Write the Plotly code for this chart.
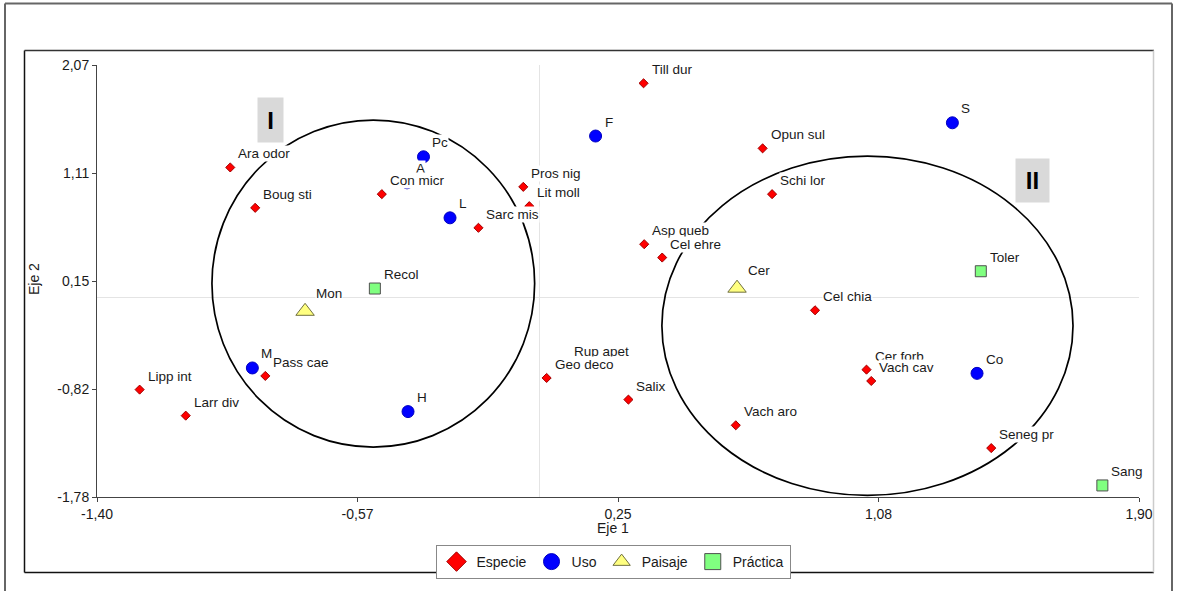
import plotly.graph_objects as go

# ---------------- data ----------------
esp_names = ["Ara odor", "Boug sti", "Till dur", "Pros nig", "Lit moll", "Sarc mis",
             "Asp queb", "Cel ehre", "Opun sul", "Schi lor", "Cel chia", "Cer forb",
             "Vach cav", "Vach aro", "Seneg pr", "Rup apet", "Geo deco", "Salix",
             "Pass cae", "Lipp int", "Larr div", "Con micr"]
esp_x = [-0.978, -0.899, 0.331, -0.050, -0.031, -0.192,
         0.333, 0.390, 0.708, 0.738, 0.874, 1.037,
         1.052, 0.623, 1.432, 0.086, 0.024, 0.283,
         -0.867, -1.265, -1.119, -0.498]
esp_y = [1.157, 0.797, 1.907, 0.984, 0.812, 0.619,
         0.473, 0.354, 1.327, 0.919, -0.116, -0.645,
         -0.746, -1.141, -1.344, -0.606, -0.719, -0.912,
         -0.701, -0.823, -1.055, 0.919]

uso_names = ["Pc", "A", "L", "F", "S", "Co", "M", "H"]
uso_x = [-0.366, -0.418, -0.282, 0.179, 1.309, 1.387, -0.908, -0.415]
uso_y = [1.252, 1.020, 0.708, 1.437, 1.555, -0.678, -0.630, -1.019]

pai_names = ["Mon", "Cer"]
pai_x = [-0.741, 0.627]
pai_y = [-0.125, 0.081]

pra_names = ["Recol", "Toler", "Sang"]
pra_x = [-0.520, 1.399, 1.784]
pra_y = [0.078, 0.232, -1.677]

x_tickvals = [-1.40, -0.575, 0.25, 1.075, 1.90]
x_ticktext = ["-1,40", "-0,57", "0,25", "1,08", "1,90"]
y_tickvals = [2.07, 1.1075, 0.145, -0.8175, -1.78]
y_ticktext = ["2,07", "1,11", "0,15", "-0,82", "-1,78"]

# ellipses around groups (data coords)
group_I = dict(x0=-1.036, x1=-0.014, y0=-1.335, y1=1.579)
group_II = dict(x0=0.389, x1=1.691, y0=-1.766, y1=1.258)

FONT = "Liberation Sans, Arial, sans-serif"

# plot area in pixels
L, R, T, B = 97, 39, 65, 94
W, H = 1178, 591
PW, PH = W - L - R, H - T - B


def px(x):
    return (x - L) / PW


def py(y):
    return (H - B - y) / PH


groups = [
    ("Especie", esp_names, esp_x, esp_y, "diamond", 7, "#ff0000", "#a00000", 15, (7, 13.5)),
    ("Uso", uso_names, uso_x, uso_y, "circle", 12, "#0000ff", "#0000c0", 16, (8, 14)),
    ("Paisaje", pai_names, pai_x, pai_y, "triangle-up", 16, "#ffff80", "#707040", 15, (10, 18)),
    ("Práctica", pra_names, pra_x, pra_y, "square", 11, "#80ff80", "#505050", 16, (8, 14)),
]

fig = go.Figure()
annotations = []

for name, labels, xs, ys, sym, size, col, lcol, lsize, off in groups:
    fig.add_trace(go.Scatter(
        x=xs, y=ys, mode="markers", name=name, showlegend=False,
        marker=dict(symbol=sym, size=size, color=col, line=dict(color=lcol, width=1)),
        hoverinfo="text", text=labels,
    ))
    # legend-only proxy with larger symbol
    fig.add_trace(go.Scatter(
        x=[None], y=[None], mode="markers", name=name, showlegend=True,
        marker=dict(symbol=sym, size=lsize, color=col, line=dict(color=lcol, width=1)),
    ))

# labels: draw Uso / Paisaje / Práctica first, Especie on top
label_order = [groups[1], groups[2], groups[3], groups[0]]
for name, labels, xs, ys, sym, size, col, lcol, lsize, off in label_order:
    for lab, xv, yv in zip(labels, xs, ys):
        annotations.append(dict(
            x=xv, y=yv, xref="x", yref="y", text=lab, showarrow=False,
            xanchor="left", yanchor="middle", xshift=off[0], yshift=off[1],
            bgcolor="white", borderpad=0,
            font=dict(family=FONT, size=13.5, color="#1a1a1a"),
        ))

# Roman numeral tags
annotations.append(dict(x=px(270.5), y=py(120), xref="paper", yref="paper", text="<b>I</b>",
                        showarrow=False, xanchor="center", yanchor="middle", width=25, height=44,
                        bgcolor="#d9d9d9", borderpad=0,
                        font=dict(family=FONT, size=24, color="black")))
annotations.append(dict(x=px(1032.5), y=py(180.5), xref="paper", yref="paper", text="<b>II</b>",
                        showarrow=False, xanchor="center", yanchor="middle", width=33, height=43,
                        bgcolor="#d9d9d9", borderpad=0,
                        font=dict(family=FONT, size=24, color="black")))

# axis titles
annotations.append(dict(x=px(613), y=py(528), xref="paper", yref="paper", text="Eje 1",
                        showarrow=False, xanchor="center", yanchor="middle",
                        font=dict(family=FONT, size=14, color="#1a1a1a")))
annotations.append(dict(x=px(34), y=py(279), xref="paper", yref="paper", text="Eje 2",
                        showarrow=False, xanchor="center", yanchor="middle", textangle=-90,
                        font=dict(family=FONT, size=14, color="#1a1a1a")))

shapes = []
for g in (group_I, group_II):
    shapes.append(dict(type="circle", xref="x", yref="y", layer="above",
                       line=dict(color="black", width=1.7), fillcolor="rgba(0,0,0,0)", **g))


def pline(x0, y0, x1, y1, color, width):
    return dict(type="line", xref="paper", yref="paper", x0=px(x0), y0=py(y0),
                x1=px(x1), y1=py(y1), line=dict(color=color, width=width), layer="above")


# outer page frame
shapes.append(pline(5, 3.5, 5, 600, "#666666", 2))
shapes.append(pline(5, 3.5, 1172, 3.5, "#666666", 2))
shapes.append(pline(1172, 3.5, 1172, 600, "#666666", 2))
# inner chart frame
shapes.append(pline(24.5, 50.5, 24.5, 572.5, "#111111", 1.5))
shapes.append(pline(24.5, 50.5, 1154, 50.5, "#333333", 1.5))
shapes.append(pline(24.5, 572.5, 1154, 572.5, "#111111", 1.5))
shapes.append(pline(1153.5, 50.5, 1153.5, 572.5, "#cccccc", 1.5))

fig.update_layout(
    width=W, height=H,
    margin=dict(l=L, r=R, t=T, b=B, autoexpand=False),
    paper_bgcolor="white", plot_bgcolor="white",
    font=dict(family=FONT, size=14, color="#1a1a1a"),
    xaxis=dict(range=[-1.40, 1.90], tickvals=x_tickvals, ticktext=x_ticktext,
               showgrid=False, zeroline=True, zerolinecolor="#e4e4e4", zerolinewidth=1,
               showline=True, linecolor="#444444", linewidth=1,
               ticks="outside", ticklen=4, tickcolor="#444444",
               tickfont=dict(family=FONT, size=14, color="#1a1a1a")),
    yaxis=dict(range=[-1.78, 2.07], tickvals=y_tickvals, ticktext=y_ticktext,
               showgrid=False, zeroline=True, zerolinecolor="#e4e4e4", zerolinewidth=1,
               showline=True, linecolor="#444444", linewidth=1,
               ticks="outside", ticklen=4, tickcolor="#444444",
               tickfont=dict(family=FONT, size=14, color="#1a1a1a")),
    legend=dict(orientation="h", x=px(613), xanchor="center", y=py(545), yanchor="top",
                bordercolor="#888888", borderwidth=1, bgcolor="white",
                font=dict(family=FONT, size=14, color="#1a1a1a"),
                itemclick=False, itemdoubleclick=False),
    annotations=annotations,
    shapes=shapes,
    showlegend=True,
)

fig.write_html("out.html", config={"displayModeBar": False},
               post_script="document.body.style.margin='0px';document.body.style.overflow='hidden';")
